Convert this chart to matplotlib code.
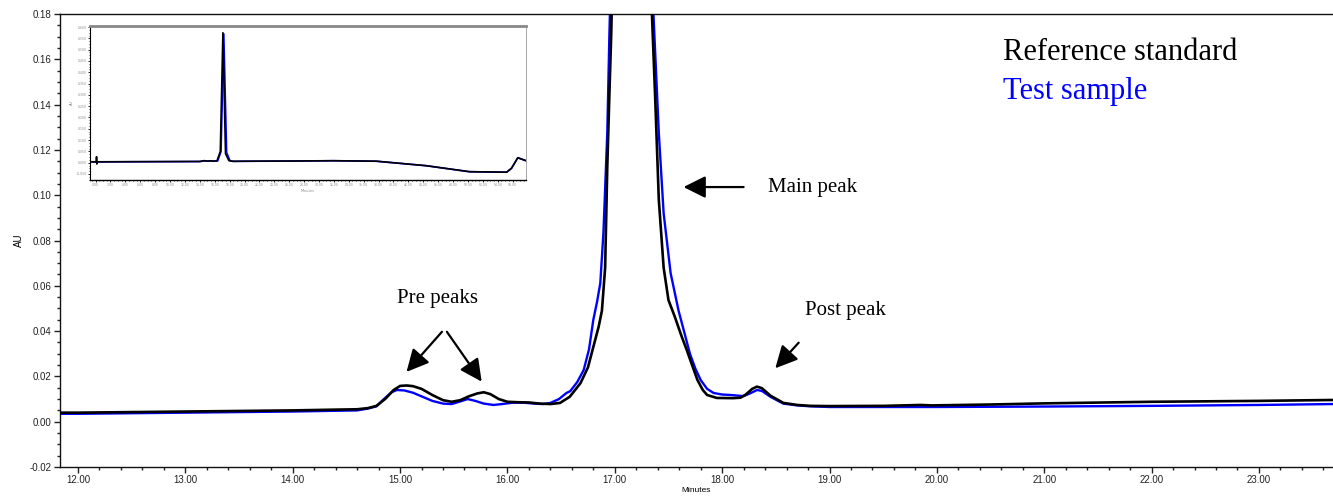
import matplotlib
matplotlib.use("Agg")
import matplotlib.pyplot as plt
from matplotlib.ticker import MultipleLocator, FormatStrFormatter
import numpy as np

# ---------------- data ----------------
ref_t = [11.83, 12.0, 13.0, 14.0, 14.6, 14.70, 14.78, 14.86, 14.94, 15.00, 15.06, 15.12,
         15.20, 15.30, 15.40, 15.48, 15.56, 15.64, 15.72, 15.78, 15.84, 15.92, 16.00,
         16.10, 16.20, 16.30, 16.40, 16.49, 16.58, 16.68, 16.75, 16.80, 16.85, 16.88,
         16.91, 16.93, 16.95, 16.967, 16.98, 17.15, 17.33, 17.346, 17.377, 17.41,
         17.455, 17.50, 17.56, 17.62, 17.67, 17.72, 17.77, 17.82, 17.86, 17.95, 18.10,
         18.17, 18.22, 18.28, 18.325, 18.37, 18.45, 18.57, 18.70, 18.82, 19.0, 19.5,
         19.85, 19.95, 20.5, 21.0, 22.0, 23.0, 23.69]
ref_au = [0.0040, 0.0040, 0.0045, 0.0050, 0.0055, 0.0060, 0.0070, 0.0100, 0.0140, 0.0158,
          0.0160, 0.0157, 0.0145, 0.0118, 0.0095, 0.0088, 0.0095, 0.0112, 0.0125, 0.0130,
          0.0122, 0.0100, 0.0088, 0.0086, 0.0085, 0.0080, 0.0078, 0.0083, 0.0110, 0.0170,
          0.0240, 0.0330, 0.0420, 0.0490, 0.0680, 0.1125, 0.1450, 0.1716, 0.20, 0.58,
          0.20, 0.180, 0.142, 0.098, 0.068, 0.0537, 0.0462, 0.0380, 0.0317, 0.0250,
          0.0184, 0.0140, 0.0118, 0.0105, 0.0104, 0.0106, 0.0120, 0.0145, 0.0155,
          0.0148, 0.0115, 0.0083, 0.0074, 0.0070, 0.0069, 0.0070, 0.0074, 0.0072,
          0.0076, 0.0081, 0.0088, 0.0092, 0.0096]

test_t = [11.83, 12.0, 13.0, 14.0, 14.6, 14.70, 14.78, 14.84, 14.92, 14.97, 15.04, 15.12,
          15.20, 15.30, 15.40, 15.48, 15.55, 15.63, 15.70, 15.78, 15.87, 15.95, 16.05,
          16.15, 16.25, 16.33, 16.40, 16.48, 16.55, 16.585, 16.65, 16.71, 16.76, 16.80,
          16.835, 16.865, 16.894, 16.93, 16.95, 16.96, 17.15, 17.35, 17.36, 17.41,
          17.455, 17.52, 17.594, 17.65, 17.70, 17.75, 17.80, 17.86, 17.92, 18.00, 18.08,
          18.20, 18.26, 18.325, 18.37, 18.45, 18.57, 18.70, 18.82, 19.0, 20.0, 21.0,
          22.0, 23.0, 23.69]
test_au = [0.0035, 0.0035, 0.0040, 0.0045, 0.0050, 0.0058, 0.0068, 0.0096, 0.0130, 0.0140,
           0.0138, 0.0128, 0.0112, 0.0092, 0.0080, 0.0078, 0.0088, 0.0100, 0.0092, 0.0080,
           0.0074, 0.0078, 0.0084, 0.0084, 0.0080, 0.0078, 0.0083, 0.0100, 0.0127, 0.0135,
           0.0175, 0.0228, 0.0320, 0.0450, 0.0530, 0.0612, 0.0833, 0.1275, 0.1716, 0.19,
           0.57, 0.19, 0.180, 0.1275, 0.092, 0.0656, 0.0490, 0.0390, 0.0300, 0.0235,
           0.0184, 0.0145, 0.0127, 0.0120, 0.0118, 0.0113, 0.0125, 0.0140, 0.0136, 0.0110,
           0.0080, 0.0072, 0.0068, 0.0065, 0.0065, 0.0067, 0.0070, 0.0074, 0.0078]

# inset: full run
inset_ref_t = [-0.75, 0.0, 0.10, 0.13, 0.17, 0.20, 1.0, 5.0, 10.0, 14.0, 14.6, 15.0, 15.4,
               15.8, 16.3, 16.75, 17.1, 17.45, 17.9, 18.4, 20.0, 26.5, 31.9, 37.7, 44.4,
               50.2, 55.2, 55.85, 56.7, 57.8]
inset_ref_au = [0.004, 0.004, 0.004, 0.0265, -0.006, 0.004, 0.004, 0.0045, 0.005, 0.0055,
                0.009, 0.007, 0.0085, 0.007, 0.008, 0.05, 0.575, 0.04, 0.009, 0.006, 0.0065,
                0.0074, 0.0088, 0.0066, -0.0133, -0.0398, -0.042, -0.0249, 0.022, 0.0088]
inset_test_t = [-0.75, 1.0, 5.0, 10.0, 14.0, 14.6, 15.0, 15.4, 15.8, 16.4, 16.85, 17.22,
                17.6, 18.05, 18.5, 20.0, 26.5, 31.9, 37.7, 44.4, 50.2, 55.2, 55.85, 56.7,
                57.8]
inset_test_au = [0.0035, 0.0035, 0.004, 0.0045, 0.005, 0.008, 0.0065, 0.0075, 0.0065,
                 0.008, 0.05, 0.57, 0.045, 0.009, 0.006, 0.0062, 0.0072, 0.0086, 0.0064,
                 -0.0135, -0.04, -0.0422, -0.025, 0.0218, 0.0086]

legend_labels = ["Reference standard", "Test sample"]
series_colors = ["#000000", "#0000FF"]

# ---------------- figure ----------------
fig = plt.figure(figsize=(13.33, 4.98), dpi=100)
ax = fig.add_axes([0.045, 0.0622, 0.955, 0.9097])

ax.plot(test_t, test_au, color=series_colors[1], lw=1.7, zorder=2)
ax.plot(ref_t, ref_au, color=series_colors[0], lw=1.9, zorder=3)

ax.set_xlim(11.832, 23.69)
ax.set_ylim(-0.02, 0.18)
ax.xaxis.set_major_locator(MultipleLocator(1.0))
ax.xaxis.set_minor_locator(MultipleLocator(0.2))
ax.yaxis.set_major_locator(MultipleLocator(0.02))
ax.yaxis.set_minor_locator(MultipleLocator(0.005))
ax.xaxis.set_major_formatter(FormatStrFormatter('%.2f'))
ax.yaxis.set_major_formatter(FormatStrFormatter('%.2f'))
ax.tick_params(which='major', length=4, width=1.0, labelsize=7, colors='#222222', pad=2)
ax.tick_params(which='minor', length=2.5, width=1.0, colors='#222222')
for lab in ax.get_xticklabels() + ax.get_yticklabels():
    lab.set_fontfamily(['Liberation Sans', 'DejaVu Sans'])
ax.spines['right'].set_visible(False)
for s in ['left', 'bottom', 'top']:
    ax.spines[s].set_linewidth(1.0)
    ax.spines[s].set_color('#111111')
ax.set_xlabel('Minutes', fontsize=6, family=['Liberation Sans', 'DejaVu Sans'], labelpad=1)
ax.set_ylabel('AU', fontsize=7, family=['Liberation Sans', 'DejaVu Sans'], labelpad=4)

serif = ['Liberation Serif', 'DejaVu Serif']
ax.text(20.62, 0.1632, legend_labels[0], fontsize=22, family=serif, color=series_colors[0],
        va='center', ha='left')
ax.text(20.62, 0.1460, legend_labels[1], fontsize=22, family=serif, color=series_colors[1],
        va='center', ha='left')

ax.text(18.43, 0.1036, 'Main peak', fontsize=15, family=serif, va='center', ha='left')
ax.text(15.35, 0.0546, 'Pre peaks', fontsize=15, family=serif, va='center', ha='center')
ax.text(18.775, 0.0489, 'Post peak', fontsize=15, family=serif, va='center', ha='left')

aprops = dict(arrowstyle='-|>,head_length=0.9,head_width=0.45', color='black', lw=1.6,
              mutation_scale=15, shrinkA=0, shrinkB=0)
ax.annotate('', xy=(17.64, 0.1036), xytext=(18.20, 0.1036), arrowprops=aprops)
ax.annotate('', xy=(15.06, 0.022), xytext=(15.39, 0.0397), arrowprops=aprops)
ax.annotate('', xy=(15.76, 0.0177), xytext=(15.436, 0.0397), arrowprops=aprops)
ax.annotate('', xy=(18.495, 0.0236), xytext=(18.713, 0.0349), arrowprops=aprops)

# ---------------- inset ----------------
ins = fig.add_axes([0.0675, 0.6386, 0.3271, 0.3098])
ins.plot(inset_test_t, inset_test_au, color=series_colors[1], lw=1.2)
ins.plot(inset_ref_t, inset_ref_au, color=series_colors[0], lw=1.2)
ins.set_xlim(-0.75, 57.8)
ins.set_ylim(-0.0765, 0.606)
ins.xaxis.set_major_locator(MultipleLocator(2.0))
ins.xaxis.set_minor_locator(MultipleLocator(0.5))
ins.yaxis.set_major_locator(MultipleLocator(0.05))
ins.yaxis.set_minor_locator(MultipleLocator(0.0125))
ins.xaxis.set_major_formatter(FormatStrFormatter('%.2f'))
ins.yaxis.set_major_formatter(FormatStrFormatter('%.3f'))
ins.tick_params(which='major', length=1.5, width=0.6, labelsize=2.2, labelcolor='#888888',
                pad=1)
ins.tick_params(which='minor', length=1.0, width=0.5)
ins.spines['top'].set_color('#888888')
ins.spines['top'].set_linewidth(2.0)
ins.spines['right'].set_color('#999999')
ins.spines['right'].set_linewidth(0.6)
ins.spines['left'].set_linewidth(0.8)
ins.spines['bottom'].set_linewidth(1.0)
ins.set_xlabel('Minutes', fontsize=2.5, color='#888888', labelpad=1)
ins.set_ylabel('AU', fontsize=2.5, color='#888888', labelpad=2)

fig.savefig('out.png', dpi=100)
